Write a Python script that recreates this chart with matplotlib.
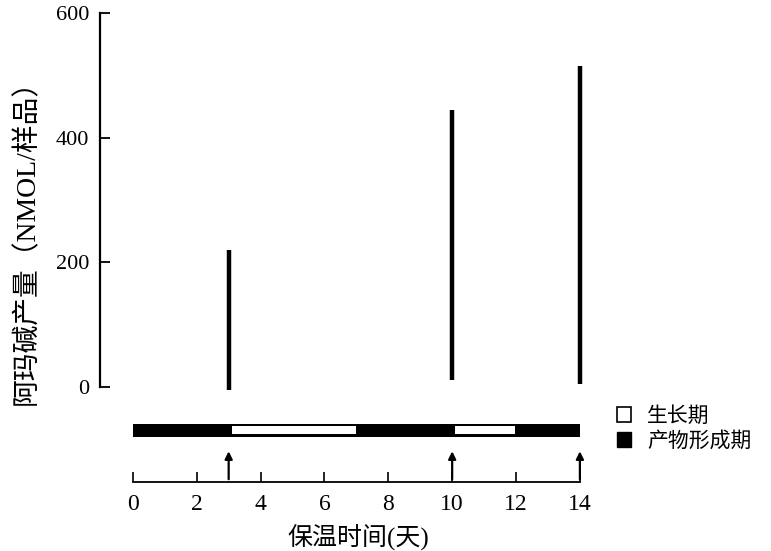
import matplotlib.pyplot as plt
from matplotlib.patches import Patch

plt.rcParams['font.family'] = ['Liberation Serif', 'Noto Sans CJK SC']

# 阿玛碱产量 (NMOL/样品), 竖线表示取样时的范围
days = [3, 10, 14]
low = [-5, 12, 5]
high = [220, 445, 515]

# 培养阶段
phase_start = [0, 3, 7, 10, 12]
phase_end = [3, 7, 10, 12, 14]
phase_kind = ['产物形成期', '生长期', '产物形成期', '生长期', '产物形成期']

xticks = [0, 2, 4, 6, 8, 10, 12, 14]
yticks = [0, 200, 400, 600]

W, H = 771, 551
fig = plt.figure(figsize=(W / 100, H / 100), dpi=100)

# 上面的产量图
ax = fig.add_axes([100 / W, 1 - 387 / H, 500 / W, 374 / H])
ax.vlines(days, low, high, color='black', lw=3.2, clip_on=False)
ax.set_xlim(-1.03, 14.63)
ax.set_ylim(0, 600)
for s in ['top', 'right', 'bottom']:
    ax.spines[s].set_visible(False)
ax.spines['left'].set_linewidth(1.6)
ax.set_xticks([])
ax.set_yticks(yticks)
ax.tick_params(axis='y', direction='in', length=7, width=1.3, labelsize=16, pad=8)

fig.text(27 / W, 1 - 235 / H, '阿玛碱产量（NMOL/样品）', rotation=90,
         ha='center', va='center', fontsize=20)

# 下面的阶段条和时间轴
ax2 = fig.add_axes([100 / W, 1 - 482 / H, 500 / W, 67 / H])
ax2.set_xlim(-1.03, 14.63)
ax2.set_ylim(0, 1)
for s in ['top', 'right', 'left']:
    ax2.spines[s].set_visible(False)
ax2.spines['bottom'].set_bounds(0, 14)
ax2.spines['bottom'].set_linewidth(1.3)
ax2.set_yticks([])
ax2.set_xticks(xticks)
ax2.tick_params(axis='x', direction='in', length=7, width=1.2, labelsize=17, pad=9)

ax2.barh(0.77, phase_end[-1] - phase_start[0], left=phase_start[0], height=0.2, color='black')
for a, b, k in zip(phase_start, phase_end, phase_kind):
    if k == '生长期':
        ax2.barh(0.77, b - a - 0.12, left=a + 0.1, height=0.12, color='white')

for d in days:
    ax2.annotate('', xy=(d, 0.5), xytext=(d, 0.0),
                 arrowprops=dict(arrowstyle='-|>', color='black', lw=1.6, mutation_scale=11),
                 annotation_clip=False)

fig.text(358 / W, 1 - 538 / H, '保温时间(天)', ha='center', va='center', fontsize=18)

handles = [Patch(facecolor='white', edgecolor='black', lw=1.2),
           Patch(facecolor='black', edgecolor='black')]
fig.legend(handles, ['生长期', '产物形成期'], loc='upper left',
           bbox_to_anchor=(598 / W, 1 - 388 / H), frameon=False,
           handlelength=0.7, handleheight=0.7, handletextpad=0.75,
           labelspacing=0.25, fontsize=15)

fig.savefig('out.png', dpi=100)
